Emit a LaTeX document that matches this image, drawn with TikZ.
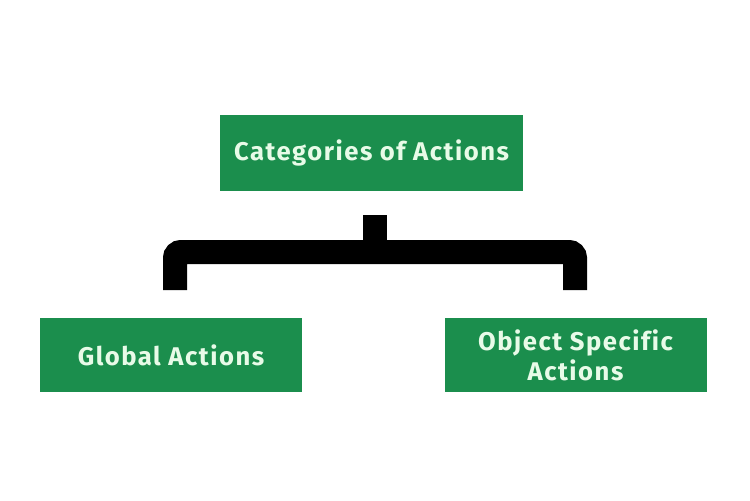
\documentclass[tikz,border=0pt]{standalone}
\usepackage{fontspec}
\setmainfont{Fira Sans}[LetterSpace=6, Ligatures=NoCommon]
\usepackage{tikz}
\usetikzlibrary{positioning}

\definecolor{boxgreen}{HTML}{1B8E4D}
\definecolor{boxtext}{HTML}{E8FBE8}

\tikzset{
  catbox/.style={fill=boxgreen, text=boxtext, font=\bfseries\fontsize{12.8}{15}\selectfont,
    minimum width=151.5pt, minimum height=38pt, align=center, inner sep=0pt},
  subbox/.style={catbox, font=\bfseries\fontsize{12.8}{15}\selectfont,
    minimum width=131pt, minimum height=37pt},
  brace/.style={line width=12pt, black, rounded corners=3pt}
}

\begin{document}
\begin{tikzpicture}[x=0.5pt, y=-0.5pt]
      \useasboundingbox (0,0) rectangle (750,500);

      \node[catbox] (cat) at (371.5,153) {Categories of Actions};
      \node[subbox] (global) at (171,355) {Global Actions};
      \node[subbox] (object) at (575.5,355) {Object Specific\\Actions};

      % the bracket between the levels
      \coordinate (stubtop) at (375,215);
      \coordinate (stubbot) at (375,252);
      \coordinate (legl) at (175,290);
      \coordinate (legr) at (575,290);
      \draw[line width=12pt] (stubtop) -- (stubbot);
      \draw[brace] (legl) |- (stubbot) -| (legr);
    \end{tikzpicture}
\end{document}
